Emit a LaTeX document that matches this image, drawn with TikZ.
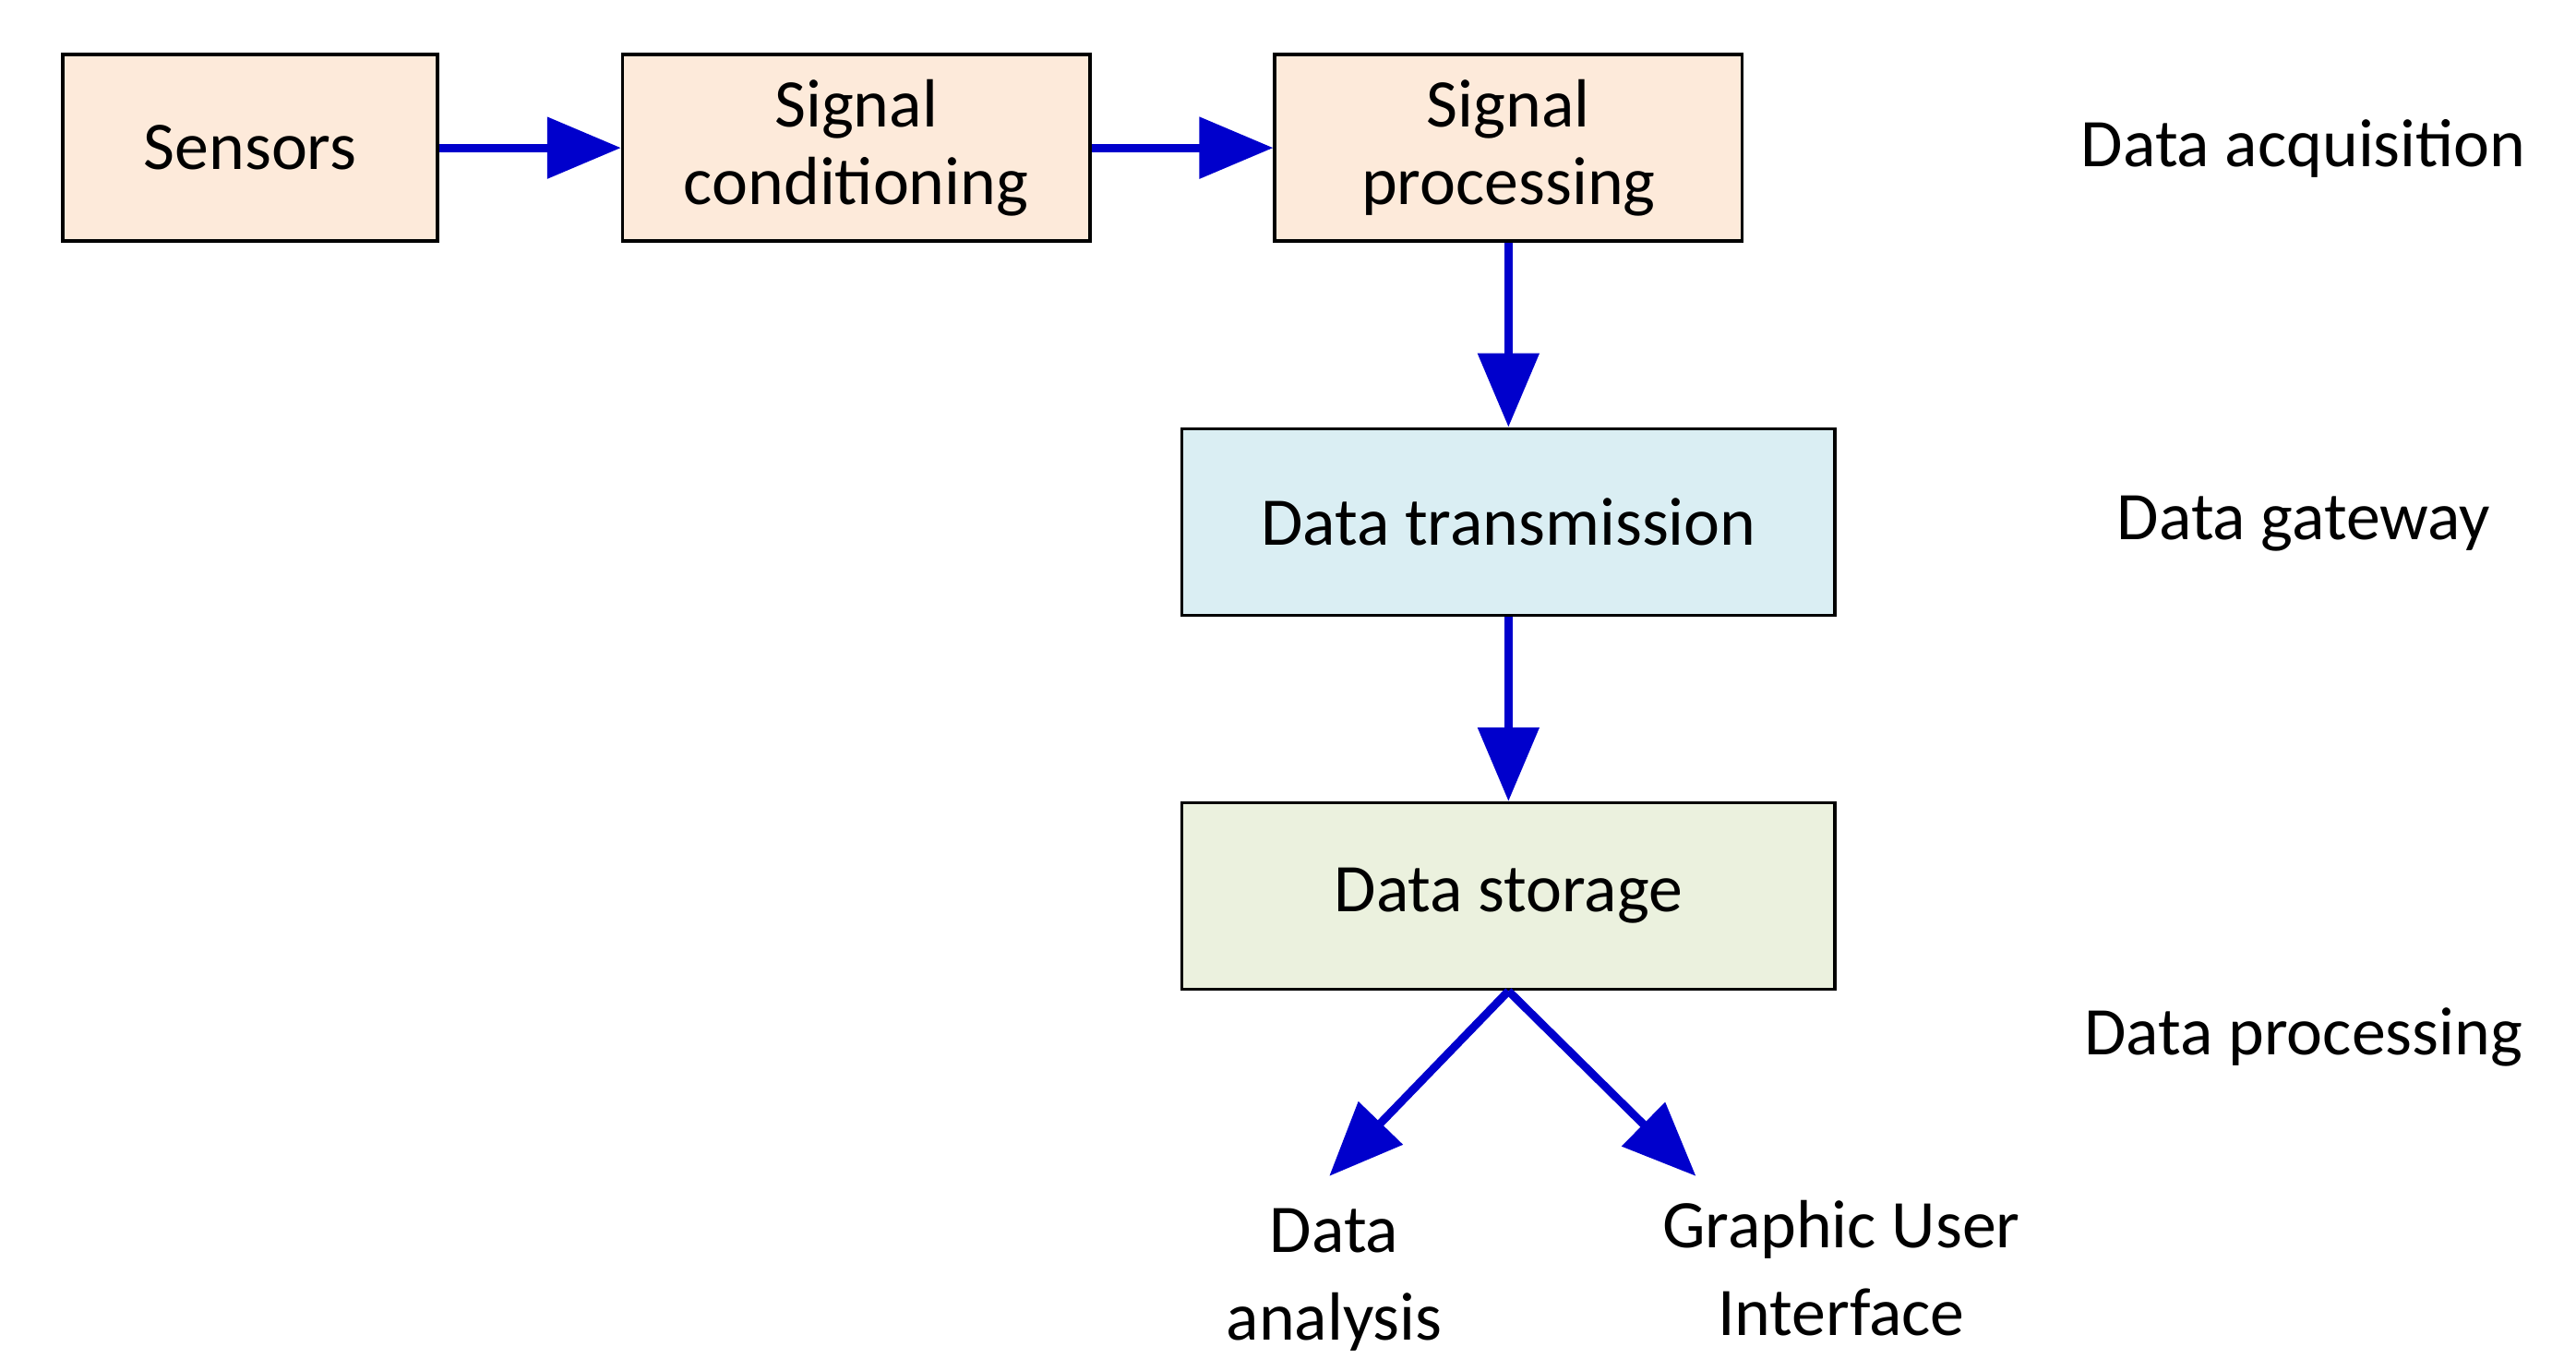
\documentclass[tikz,border=0pt]{standalone}
\usepackage{fontspec}
\setmainfont{Carlito}
\usetikzlibrary{arrows.meta}
\definecolor{orf}{HTML}{FDEADA}
\definecolor{blf}{HTML}{DAEEF3}
\definecolor{grf}{HTML}{EBF1DE}
\definecolor{arr}{HTML}{0000CC}
\begin{document}
\begin{tikzpicture}[x=0.01789cm,y=-0.01789cm,
 box/.style={draw=black,line width=1pt,minimum height=2.02cm,align=center,font=\fontsize{21}{24}\selectfont,inner sep=0pt},
 lab/.style={align=center,font=\fontsize{21}{27}\selectfont},
 con/.style={draw=arr,line width=2.5pt,-{Triangle[length=0.8cm,width=0.65cm]}}]
\useasboundingbox (0,0) rectangle (1560,829.5);
\node[box,fill=orf,minimum width=4.06cm] (sen) at (151.5,89.5) {Sensors};
\node[box,fill=orf,minimum width=5.06cm] (cond) at (518.5,89.5) {Signal\\conditioning};
\node[box,fill=orf,minimum width=5.06cm] (proc) at (913.5,89.5) {Signal\\processing};
\node[box,fill=blf,minimum width=7.07cm] (tra) at (913.5,316) {Data transmission};
\node[box,fill=grf,minimum width=7.07cm] (sto) at (913.5,542.5) {Data storage};
\node[lab] (acq) at (1395,90) {Data acquisition};
\node[lab] (gw) at (1395,317) {Data gateway};
\node[lab] (dp) at (1395,628) {Data processing};
\node[lab] (da) at (808,775) {Data\\analysis};
\node[lab] (gui) at (1115,768) {Graphic User\\Interface};
\coordinate (t1) at (805,712);
\coordinate (t2) at (1027,712);
\draw[con] (sen.east) -- (cond.west);
\draw[con] (cond.east) -- (proc.west);
\draw[con] (proc.south) -- (tra.north);
\draw[con] (tra.south) -- (sto.north);
\draw[con] (sto.south) -- (t1);
\draw[con] (sto.south) -- (t2);
\end{tikzpicture}
\end{document}
